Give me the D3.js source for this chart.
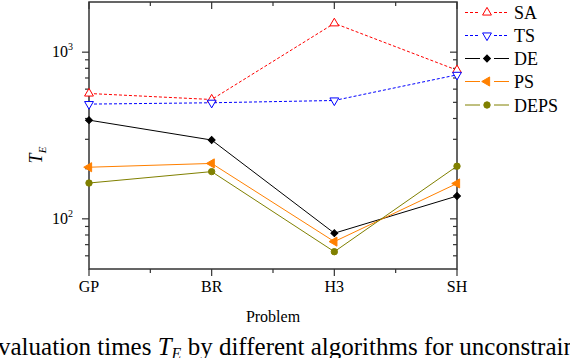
<!DOCTYPE html>
<html>
<head>
<meta charset="utf-8">
<script src="https://cdn.jsdelivr.net/npm/d3@7"></script>
<style>
  body { margin: 0; background: #fff; }
  svg { display: block; font-family: "Liberation Serif", "Times New Roman", serif; }
</style>
</head>
<body>
<div id="chart"></div>
<script>
var problems = ['GP', 'BR', 'H3', 'SH'];
var saValues = [565, 520, 1490, 780];
var tsValues = [488, 497, 513, 731];
var deValues = [391, 297, 82, 137];
var psValues = [204, 215, 73, 163];
var depsValues = [164, 192, 63.5, 207];
var yMajorTicks = [100, 1000];
var yMinorTicks = [60, 70, 80, 90, 200, 300, 400, 500, 600, 700, 800, 900];

var series = [
  { name: 'SA', values: saValues, color: '#ff0000', dash: '3,2', marker: 'up', fill: false },
  { name: 'TS', values: tsValues, color: '#0000ff', dash: '3,2', marker: 'down', fill: false },
  { name: 'DE', values: deValues, color: '#000000', dash: null, marker: 'diamond', fill: true },
  { name: 'PS', values: psValues, color: '#ff8000', dash: null, marker: 'left', fill: true },
  { name: 'DEPS', values: depsValues, color: '#808000', dash: null, marker: 'circle', fill: true }
];

var plotLeft = 89, plotRight = 457, plotTop = 2, plotBottom = 269;

var svg = d3.select('#chart').append('svg')
  .attr('width', 570)
  .attr('height', 358);

var x = d3.scalePoint().domain(problems).range([plotLeft, plotRight]);
var y = d3.scaleLog().domain([50, 2000]).range([plotBottom, plotTop]);

var axisColor = '#333';

// plot frame
svg.append('rect')
  .attr('x', plotLeft).attr('y', plotTop)
  .attr('width', plotRight - plotLeft).attr('height', plotBottom - plotTop)
  .attr('fill', 'none')
  .attr('stroke', axisColor)
  .attr('stroke-width', 1.5);

// x ticks (major at categories, minor halfway)
var step = x.step();
var xMinor = problems.slice(0, -1).map(function(d) { return x(d) + step / 2; });

function xTicks(yPos) {
  svg.selectAll(null).data(problems).enter().append('line')
    .attr('x1', function(d) { return x(d); }).attr('x2', function(d) { return x(d); })
    .attr('y1', yPos).attr('y2', yPos + 7)
    .attr('stroke', axisColor).attr('stroke-width', 1.2);
  svg.selectAll(null).data(xMinor).enter().append('line')
    .attr('x1', function(d) { return d; }).attr('x2', function(d) { return d; })
    .attr('y1', yPos).attr('y2', yPos + 4)
    .attr('stroke', axisColor).attr('stroke-width', 1.2);
}
xTicks(plotBottom);
xTicks(plotTop);

function yTicks(xPos) {
  svg.selectAll(null).data(yMajorTicks).enter().append('line')
    .attr('x1', xPos - 7).attr('x2', xPos)
    .attr('y1', function(d) { return y(d); }).attr('y2', function(d) { return y(d); })
    .attr('stroke', axisColor).attr('stroke-width', 1.2);
  svg.selectAll(null).data(yMinorTicks).enter().append('line')
    .attr('x1', xPos - 4).attr('x2', xPos)
    .attr('y1', function(d) { return y(d); }).attr('y2', function(d) { return y(d); })
    .attr('stroke', axisColor).attr('stroke-width', 1.2);
}
yTicks(plotLeft);
yTicks(plotRight);

// x tick labels
svg.selectAll(null).data(problems).enter().append('text')
  .attr('x', function(d) { return x(d); })
  .attr('y', 292)
  .attr('text-anchor', 'middle')
  .attr('font-size', 16)
  .text(function(d) { return d; });

// y tick labels 10^n
var yl = svg.selectAll(null).data(yMajorTicks).enter().append('text')
  .attr('x', 73)
  .attr('y', function(d) { return y(d) + 5; })
  .attr('text-anchor', 'end')
  .attr('font-size', 16);
yl.append('tspan').text('10');
yl.append('tspan').attr('font-size', 10).attr('dy', -7)
  .text(function(d) { return Math.round(Math.log10(d)); });

// axis titles
svg.append('text')
  .attr('x', 273).attr('y', 322)
  .attr('text-anchor', 'middle')
  .attr('font-size', 16)
  .text('Problem');

var yt = svg.append('text')
  .attr('transform', 'translate(42,155) rotate(-90)')
  .attr('text-anchor', 'middle')
  .attr('font-size', 18)
  .attr('font-style', 'italic');
yt.append('tspan').text('T');
yt.append('tspan').attr('font-size', 11).attr('dy', 4).text('E');

// marker shapes
var sym = {
  up: d3.symbol().type(d3.symbolTriangle).size(34),
  down: d3.symbol().type(d3.symbolTriangle).size(34),
  diamond: d3.symbol().type(d3.symbolSquare).size(24),
  left: d3.symbol().type(d3.symbolTriangle).size(36),
  circle: d3.symbol().type(d3.symbolCircle).size(32)
};
var rot = { up: 0, down: 180, diamond: 45, left: -90, circle: 0 };

function drawMarker(g, s, cx, cy) {
  g.append('path')
    .attr('d', sym[s.marker]())
    .attr('transform', 'translate(' + cx + ',' + cy + ') rotate(' + rot[s.marker] + ')')
    .attr('fill', s.fill ? s.color : '#fff')
    .attr('stroke', s.color)
    .attr('stroke-width', 1);
}

var line = d3.line()
  .x(function(d, i) { return x(problems[i]); })
  .y(function(d) { return y(d); });

series.forEach(function(s) {
  var g = svg.append('g');
  g.append('path')
    .attr('d', line(s.values))
    .attr('fill', 'none')
    .attr('stroke', s.color)
    .attr('stroke-width', 1)
    .attr('stroke-dasharray', s.dash);
  s.values.forEach(function(v, i) {
    drawMarker(g, s, x(problems[i]), y(v));
  });
});

// legend
var legendY = [12.5, 35.5, 58.5, 81.5, 105];
series.forEach(function(s, i) {
  var g = svg.append('g');
  var ly = legendY[i];
  g.append('line')
    .attr('x1', 465).attr('x2', 480).attr('y1', ly).attr('y2', ly)
    .attr('stroke', s.color).attr('stroke-dasharray', s.dash);
  g.append('line')
    .attr('x1', 494).attr('x2', 509).attr('y1', ly).attr('y2', ly)
    .attr('stroke', s.color).attr('stroke-dasharray', s.dash);
  drawMarker(g, s, 487, ly);
  g.append('text')
    .attr('x', 514).attr('y', ly + 6.5)
    .attr('font-size', 18)
    .text(s.name);
});

// caption (cropped in the source)
var cap = svg.append('text')
  .attr('x', -2).attr('y', 355)
  .attr('font-size', 25);
cap.append('tspan').text('valuation times ');
cap.append('tspan').attr('font-style', 'italic').text('T');
cap.append('tspan').attr('font-style', 'italic').attr('font-size', 16).attr('dy', 4).text('E');
cap.append('tspan').attr('dy', -4).text(' by different algorithms for unconstrained problems');
</script>
</body>
</html>
